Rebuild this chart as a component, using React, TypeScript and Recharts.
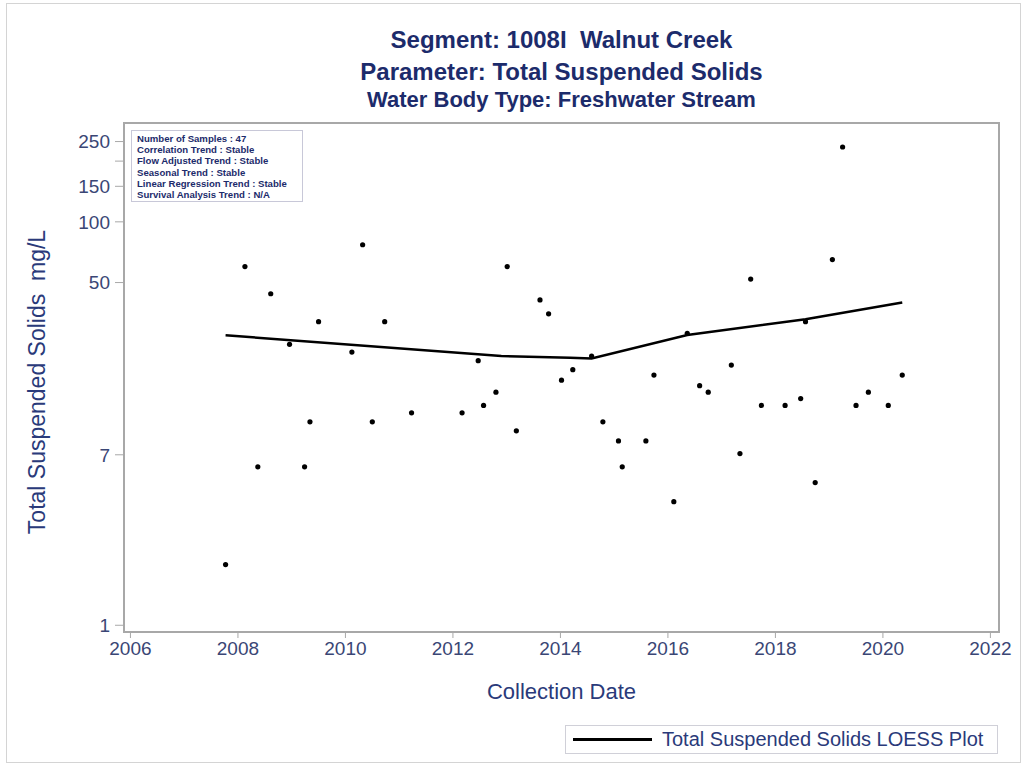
import React from 'react'
import { ComposedChart, Scatter, Line, XAxis, YAxis, ReferenceArea } from 'recharts'

// sample dates (decimal years) and TSS values
const sampleYears = [
  2007.77, 2008.13, 2008.37, 2008.61, 2008.96, 2009.24, 2009.34, 2009.50, 2010.12, 2010.32,
  2010.50, 2010.73, 2011.23, 2012.17, 2012.47, 2012.57, 2012.80, 2013.01, 2013.18, 2013.62,
  2013.78, 2014.02, 2014.23, 2014.58, 2014.79, 2015.08, 2015.15, 2015.59, 2015.74, 2016.11,
  2016.36, 2016.59, 2016.75, 2017.18, 2017.34, 2017.54, 2017.74, 2018.18, 2018.47, 2018.56,
  2018.74, 2019.06, 2019.25, 2019.50, 2019.73, 2020.10, 2020.36,
]
const sampleTss = [
  2.0, 60, 6.1, 44, 24.7, 6.1, 10.2, 32, 22.6, 77,
  10.2, 32, 11.3, 11.3, 20.5, 12.3, 14.3, 60, 9.2, 41,
  35, 16.4, 18.5, 21.6, 10.2, 8.2, 6.1, 8.2, 17.4, 4.1,
  28, 15.4, 14.3, 19.5, 7.1, 52, 12.3, 12.3, 13.3, 32,
  5.1, 65, 235, 12.3, 14.3, 12.3, 17.4,
]

const loessYears = [2007.77, 2012.9, 2014.18, 2014.58, 2016.36, 2018.56, 2020.36]
const loessTss = [27.4, 21.6, 21.2, 21.0, 27.5, 32.9, 39.8]

const yearTicks = [2006, 2008, 2010, 2012, 2014, 2016, 2018, 2020, 2022]
const tssTicks = [1, 7, 50, 100, 150, 200, 250]

const titleLines = [
  'Segment: 1008I  Walnut Creek',
  'Parameter: Total Suspended Solids',
  'Water Body Type: Freshwater Stream',
]
const statsLines = [
  'Number of Samples : 47',
  'Correlation Trend : Stable',
  'Flow Adjusted Trend : Stable',
  'Seasonal Trend : Stable',
  'Linear Regression Trend : Stable',
  'Survival Analysis Trend : N/A',
]

const FONT = 'Arial, "Liberation Sans", sans-serif'
const NAVY = '#1c2b6b'
const TICK = '#3a4675'
const LABEL = '#2a3a7a'

export default function App() {
  const points = sampleYears.map((y, i) => ({ year: y, tss: sampleTss[i] }))
  const loess = loessYears.map((y, i) => ({ year: y, tss: loessTss[i] }))

  return (
    <div style={{ position: 'absolute', left: 0, top: 0, width: 1026, height: 765, background: '#fff', fontFamily: FONT }}>
      <div style={{ position: 'absolute', left: 6, top: 3, width: 1013, height: 758, border: '1px solid #d4d4d4' }} />

      {titleLines.map((t, i) => (
        <div key={t} style={{
          position: 'absolute', left: 124, width: 875, textAlign: 'center', whiteSpace: 'pre',
          top: [28, 60, 88][i], fontSize: i === 2 ? 22 : 24, fontWeight: 'bold', color: NAVY, lineHeight: '24px',
        }}>{t}</div>
      ))}

      <ComposedChart width={1026} height={765} data={points}
        margin={{ top: 123, right: 27, bottom: 103, left: 64 }}
        style={{ position: 'absolute', left: 0, top: 0 }}>
        <XAxis type="number" dataKey="year" domain={[2005.88, 2022.16]} ticks={yearTicks}
          allowDataOverflow height={30} stroke="#a8a8a8" tickSize={6}
          tick={{ fill: TICK, fontSize: 19, fontFamily: FONT }} tickMargin={4} />
        <YAxis type="number" dataKey="tss" scale="log" domain={[0.926, 309]} ticks={tssTicks}
          allowDataOverflow width={60} stroke="#a8a8a8" tickSize={9}
          tickFormatter={(v: number) => (v === 200 ? '' : String(v))}
          tick={{ fill: TICK, fontSize: 19, fontFamily: FONT }} tickMargin={5} />
        <ReferenceArea x1={2005.88} x2={2022.16} y1={0.926} y2={309} ifOverflow="visible"
          fill="none" stroke="#a8a8a8" strokeWidth={2} />
        <Line data={loess} dataKey="tss" type="linear" stroke="#000" strokeWidth={2.5}
          dot={false} isAnimationActive={false} legendType="none" />
        <Scatter data={points} dataKey="tss" fill="#000" isAnimationActive={false}
          shape={(p: any) => <circle cx={p.cx} cy={p.cy} r={2.6} fill="#000" />} />
      </ComposedChart>

      <div style={{
        position: 'absolute', left: 131, top: 130, width: 172, height: 72, border: '1px solid #c8c8d8',
        padding: '2px 0 0 5px', boxSizing: 'border-box', background: '#fff',
      }}>
        {statsLines.map(s => (
          <div key={s} style={{ fontSize: 9.6, fontWeight: 'bold', color: NAVY, lineHeight: '11.2px', whiteSpace: 'nowrap' }}>{s}</div>
        ))}
      </div>

      <div style={{
        position: 'absolute', left: 37, top: 382, transform: 'translate(-50%, -50%) rotate(-90deg)',
        fontSize: 23, color: LABEL, whiteSpace: 'pre',
      }}>{'Total Suspended Solids  mg/L'}</div>

      <div style={{ position: 'absolute', left: 124, width: 875, top: 679, textAlign: 'center', fontSize: 22, color: LABEL }}>
        Collection Date
      </div>

      <div style={{
        position: 'absolute', left: 565, top: 725, width: 433, height: 29, border: '1px solid #d0d0d8',
        boxSizing: 'border-box', display: 'flex', alignItems: 'center',
      }}>
        <div style={{ marginLeft: 7, width: 79, height: 3, background: '#000' }} />
        <div style={{ marginLeft: 10, fontSize: 20, color: LABEL, whiteSpace: 'nowrap' }}>Total Suspended Solids LOESS Plot</div>
      </div>
    </div>
  )
}
